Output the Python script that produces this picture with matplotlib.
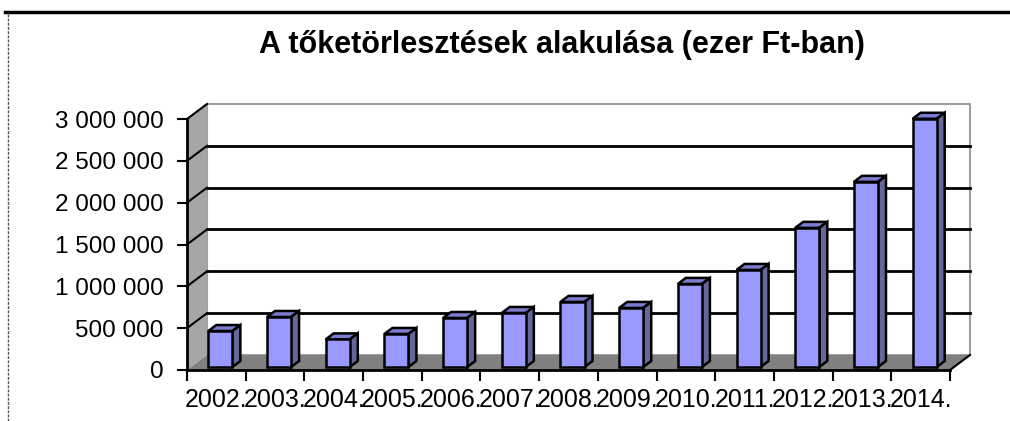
import numpy as np
import matplotlib.pyplot as plt
from matplotlib.patches import Polygon
from matplotlib.lines import Line2D
from matplotlib.ticker import FuncFormatter

# data (ezer Ft)
years = ['2002.', '2003.', '2004.', '2005.', '2006.', '2007.', '2008.',
         '2009.', '2010.', '2011.', '2012.', '2013.', '2014.']
values = [430000, 598000, 330000, 395000, 586000, 646000, 778000,
          706000, 993000, 1160000, 1663000, 2213000, 2967000]
yticks = [0, 500000, 1000000, 1500000, 2000000, 2500000, 3000000]
title = 'A tőketörlesztések alakulása (ezer Ft-ban)'

plt.rcParams['font.family'] = ['Liberation Sans', 'DejaVu Sans']

W, H = 1010, 421
fig = plt.figure(figsize=(W / 100, H / 100), dpi=100)
ax_l, ax_r, ax_b, ax_t = 187, 950, 370, 119
ax = fig.add_axes([ax_l / W, (H - ax_b) / H, (ax_r - ax_l) / W, (ax_b - ax_t) / H])

n = len(values)
ymax = 3000000
ax.set_xlim(0, n)
ax.set_ylim(0, ymax)

# depth of the fake 3d box, pixels -> data units
dx = 20 / ((ax_r - ax_l) / n)
dy = 15 / ((ax_b - ax_t) / ymax)

# back wall, side wall, floor
ax.add_patch(Polygon([(dx, dy), (n + dx, dy), (n + dx, ymax + dy), (dx, ymax + dy)],
                     closed=True, facecolor='white', edgecolor='#a0a0a0', lw=1.5,
                     clip_on=False, zorder=1))
ax.add_patch(Polygon([(0, 0), (dx, dy), (dx, ymax + dy), (0, ymax)],
                     closed=True, facecolor='#a6a6a6', edgecolor='none',
                     clip_on=False, zorder=1))
ax.add_patch(Polygon([(0, 0), (n, 0), (n + dx, dy), (dx, dy)],
                     closed=True, facecolor='#808080', edgecolor='none',
                     clip_on=False, zorder=1))

# grid lines on back wall and side wall
for v in yticks[1:-1]:
    ax.plot([dx, n + dx], [v + dy, v + dy], color='black', lw=2, clip_on=False, zorder=2)
for v in yticks[1:]:
    ax.plot([0, dx], [v, v + dy], color='black', lw=1.5, clip_on=False, zorder=2)
ax.plot([n, n + dx], [0, dy], color='black', lw=1.5, clip_on=False, zorder=2)

# bars
f0, f1 = 0.2, 0.6
width = 0.41
x = np.arange(n) + 0.5 + f0 * dx
ax.bar(x, values, width=width, bottom=f0 * dy, color='#9999ff',
       edgecolor='black', lw=1.8, zorder=4, clip_on=False)
ddx = (f1 - f0) * dx
ddy = (f1 - f0) * dy
for xi, v in zip(x, values):
    xl, xr = xi - width / 2, xi + width / 2
    top = v + f0 * dy
    ax.add_patch(Polygon([(xl, top), (xr, top), (xr + ddx, top + ddy), (xl + ddx, top + ddy)],
                         closed=True, facecolor='#7b7bd0', edgecolor='black', lw=1.8,
                         clip_on=False, zorder=3))
    ax.add_patch(Polygon([(xr, f0 * dy), (xr + ddx, f0 * dy + ddy), (xr + ddx, top + ddy), (xr, top)],
                         closed=True, facecolor='#666699', edgecolor='black', lw=1.8,
                         clip_on=False, zorder=3))

# axes
for s in ['top', 'right']:
    ax.spines[s].set_visible(False)
ax.spines['left'].set_linewidth(2)
ax.spines['bottom'].set_linewidth(2)
ax.spines['left'].set_zorder(5)
ax.set_facecolor('none')

ax.set_yticks(yticks)
ax.yaxis.set_major_formatter(FuncFormatter(lambda v, p: f'{int(v):,}'.replace(',', ' ')))
ax.tick_params(axis='y', length=7, width=1.5, pad=10, labelsize=17.5)

ax.set_xticks(np.arange(n + 1))
ax.set_xticklabels([])
ax.set_xticks(np.arange(n) + 0.5, minor=True)
ax.set_xticklabels(years, minor=True)
ax.tick_params(axis='x', which='major', length=8, width=1.5)
ax.tick_params(axis='x', which='minor', length=0, pad=13, labelsize=18)

fig.text(562 / W, 1 - 45 / H, title, ha='center', va='center', fontsize=22,
         fontweight='bold')

# frame around the chart
fig.add_artist(Line2D([5 / W, 1], [1 - 12 / H, 1 - 12 / H], color='black', lw=2.5))
fig.add_artist(Line2D([8 / W, 8 / W], [0, 1 - 12 / H], color='#555555', lw=1, ls=(0, (2, 1))))

fig.savefig('out.png', dpi=100)
